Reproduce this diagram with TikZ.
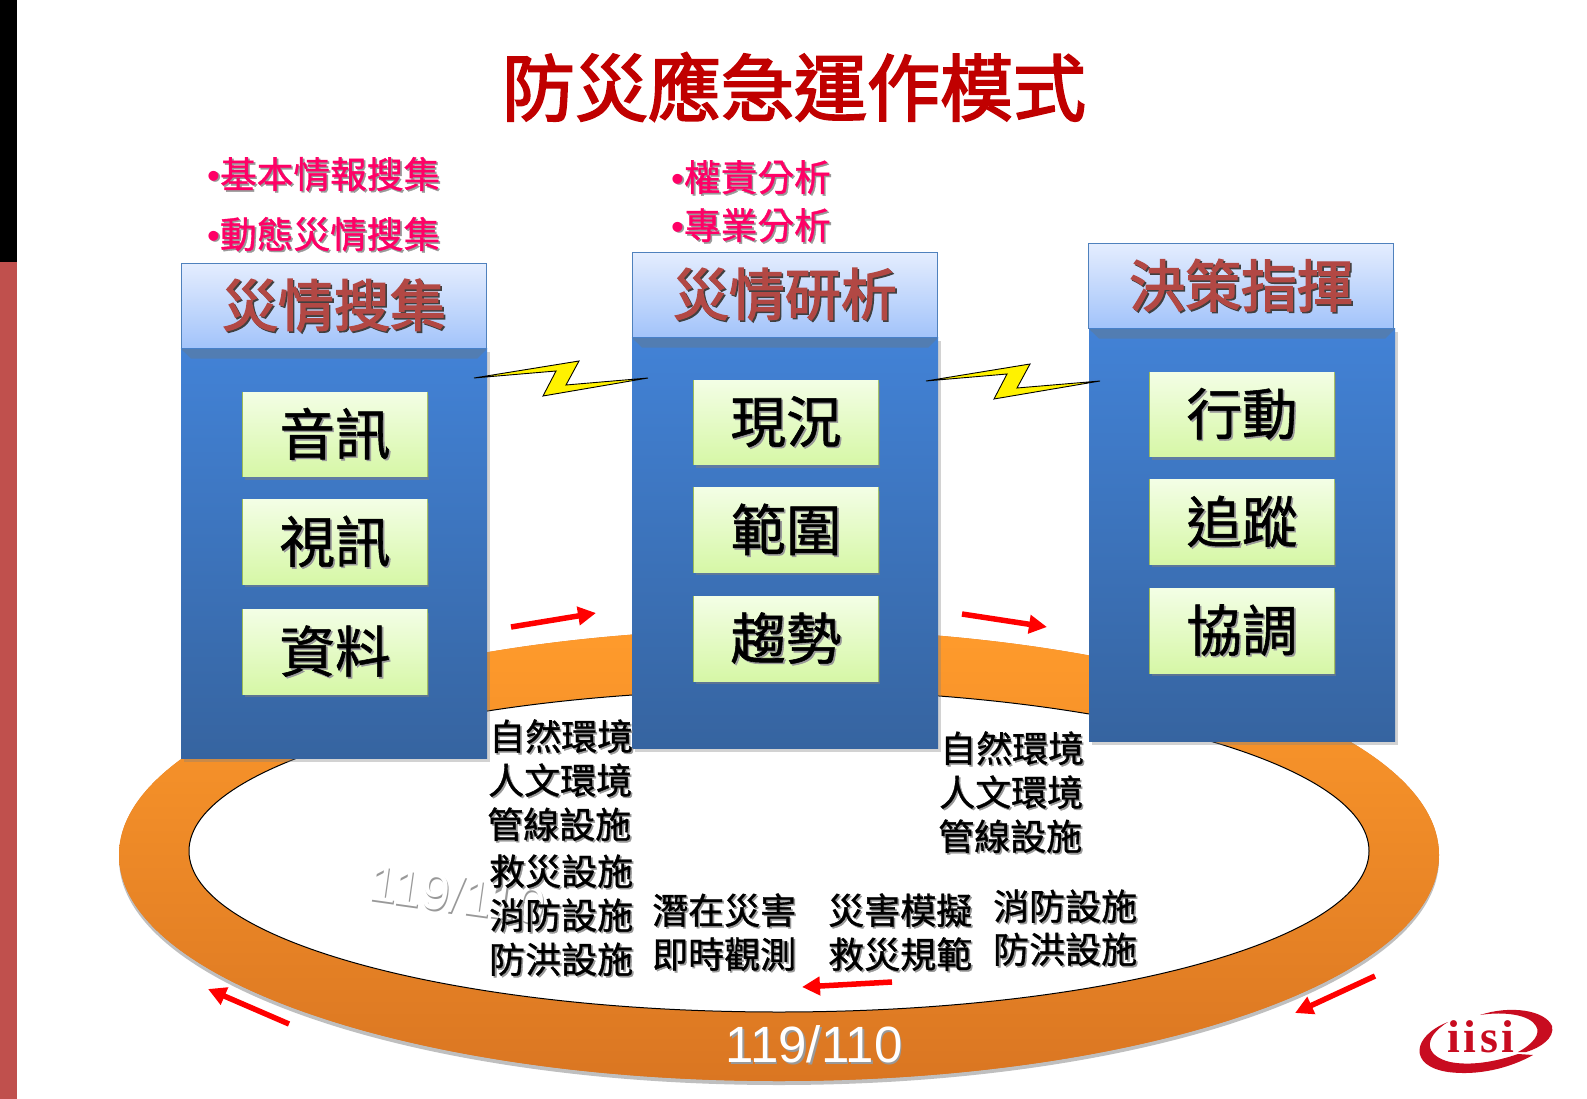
\documentclass[tikz,border=0pt]{standalone}
\usepackage{fontspec}
\setmainfont{Liberation Sans}
\newfontfamily\cjk[FakeBold=1]{Noto Sans CJK TC}
\newfontfamily\cjktitle[FakeBold=2.5]{Noto Sans CJK TC}
\newfontfamily\logofont[LetterSpace=8]{Liberation Serif}
\usepackage{tikz}
\usetikzlibrary{arrows.meta,positioning,shadows}
\definecolor{dutyRed}{RGB}{192,0,0}
\definecolor{railRed}{RGB}{192,80,77}
\definecolor{notePink}{RGB}{255,0,102}
\definecolor{headRed}{RGB}{178,72,68}
\definecolor{ringTop}{RGB}{255,155,44}
\definecolor{ringLow}{RGB}{218,118,34}
\definecolor{bodyTop}{RGB}{66,130,214}
\definecolor{bodyLow}{RGB}{54,100,160}
\definecolor{headTop}{RGB}{228,237,254}
\definecolor{headLow}{RGB}{162,195,250}
\definecolor{headLine}{RGB}{79,129,189}
\definecolor{itemTop}{RGB}{243,254,229}
\definecolor{itemLow}{RGB}{214,247,166}
\definecolor{itemLine}{RGB}{155,187,89}
\definecolor{bevelBlue}{RGB}{82,125,178}
\definecolor{logoRed}{RGB}{200,12,32}
\newcommand{\shtext}[2][black!40]{\leavevmode\rlap{\hspace{1.6pt}\raisebox{-1.6pt}{\textcolor{#1}{#2}}}#2}
\tikzset{
  headbox/.style={draw=headLine, top color=headTop, bottom color=headLow,
                  minimum width=305pt, minimum height=85pt, inner sep=0pt, font=\cjktitle\fontsize{56}{60}\selectfont, text=headRed},
  bodybox/.style={fill=bodyLow, drop shadow={shadow xshift=2.5pt, shadow yshift=-3pt, opacity=.35},
                  postaction={top color=bodyTop, bottom color=bodyLow},
                  minimum width=306pt, minimum height=411pt, inner sep=0pt},
  itembox/.style={draw=itemLine, line width=1.2pt, fill=itemLow, drop shadow={shadow xshift=2pt, shadow yshift=-3pt, opacity=.5},
                  postaction={top color=itemTop, bottom color=itemLow}, minimum width=184pt, minimum height=84.5pt,
                  inner sep=0pt, font=\cjk\fontsize{55.5}{60}\selectfont},
  notetext/.style={anchor=west, inner sep=0pt, text=notePink, font=\cjk\fontsize{36.7}{40}\selectfont},
  labeltext/.style={anchor=west, inner sep=0pt, font=\cjk\fontsize{36}{40}\selectfont},
  bolt/.style={draw=black, fill=yellow, line width=.9pt, line join=miter},
  flow/.style={-{Triangle[length=18pt,width=18pt]}, draw=red, line width=5.5pt},
  bevel/.style={fill=bevelBlue}
}
\begin{document}
\begin{tikzpicture}[x=1pt, y=-1pt]
\useasboundingbox (0,0) rectangle (1587,1099);
\fill[white] (0,0) rectangle (1587,1099);
\fill[black] (0,0) rectangle (17,262);
\fill[railRed] (0,262) rectangle (17,1099);

% ring
\path[fill=ringLow, drop shadow={shadow xshift=0pt, shadow yshift=-4pt, opacity=.5}, postaction={top color=ringTop, bottom color=ringLow}]
  (779,855) ellipse [x radius=660, y radius=226];
\draw[black, fill=white, line width=1pt] (779,851) ellipse [x radius=590, y radius=161];
\node[inner sep=0pt, rotate=-8, text=white, font=\fontsize{51}{52}\selectfont] (ghost) at (457,895) {\shtext[black!40]{119/110}};
\node[inner sep=0pt, text=white, font=\fontsize{51}{52}\selectfont] (ringlabel) at (814,1045) {\shtext[black!40]{119/110}};

\node[font=\cjktitle\fontsize{73}{80}\selectfont, text=dutyRed, inner sep=0pt] (title) at (794,87) {防災應急運作模式};

% columns
\node[headbox] (head1) at (334,306) {\shtext[black!75]{災情搜集}};
\node[bodybox, below=0pt of head1, minimum height=410pt] (body1) {};
\node[headbox] (head2) at (785,295) {\shtext[black!75]{災情研析}};
\node[bodybox, below=0pt of head2] (body2) {};
\node[headbox] (head3) at (1241,286) {\shtext[black!75]{決策指揮}};
\node[bodybox, below=0pt of head3, xshift=1pt, minimum height=413pt] (body3) {};
\foreach \b in {body1,body2,body3}
  \fill[bevel] (\b.north west) -- (\b.north east) -- ++(-10,10) -- ++(-286,0) -- cycle;

\node[itembox] (a1) at (335,434.5) {\shtext{音訊}};
\node[itembox, below=22pt of a1] (a2) {\shtext{視訊}};
\node[itembox, below=24pt of a2] (a3) {\shtext{資料}};
\node[itembox] (b1) at (786,422.5) {\shtext{現況}};
\node[itembox, below=22pt of b1] (b2) {\shtext{範圍}};
\node[itembox, below=23pt of b2] (b3) {\shtext{趨勢}};
\node[itembox] (c1) at (1242,414.5) {\shtext{行動}};
\node[itembox, below=22pt of c1] (c2) {\shtext{追蹤}};
\node[itembox, below=23pt of c2] (c3) {\shtext{協調}};

% notes
\node[notetext] (n1) at (207,175) {\shtext{{\rmfamily •}基本情報搜集}};
\node[notetext] (n2) at (207,235) {\shtext{{\rmfamily •}動態災情搜集}};
\node[notetext] (n3) at (671,178) {\shtext{{\rmfamily •}權責分析}};
\node[notetext] (n4) at (671,226) {\shtext{{\rmfamily •}專業分析}};

% bolts
\coordinate (b1l) at (474,378);
\coordinate (b1r) at (648,378);
\draw[bolt] (b1l) -- (579,361) -- (566,385) -- (b1r) -- (543,396) -- (556,371) -- cycle;
\coordinate (b2l) at (926,381);
\coordinate (b2r) at (1100,381);
\draw[bolt] (b2l) -- (1030,364) -- (1017,388) -- (b2r) -- (994,399) -- (1007,374) -- cycle;

% labels
\node[labeltext] (l1) at (489,737) {\shtext{自然環境}};
\node[labeltext] (l2) at (488,781) {\shtext{人文環境}};
\node[labeltext] (l3) at (487,825) {\shtext{管線設施}};
\node[labeltext] (l4) at (489,872) {\shtext{救災設施}};
\node[labeltext] (l5) at (489,916) {\shtext{消防設施}};
\node[labeltext] (l6) at (489,960) {\shtext{防洪設施}};
\node[labeltext] (r1) at (940,749) {\shtext{自然環境}};
\node[labeltext] (r2) at (939,793) {\shtext{人文環境}};
\node[labeltext] (r3) at (938,837) {\shtext{管線設施}};
\node[labeltext] (m1) at (652,911) {\shtext{潛在災害}};
\node[labeltext] (m2) at (652,955) {\shtext{即時觀測}};
\node[labeltext] (m3) at (828,911) {\shtext{災害模擬}};
\node[labeltext] (m4) at (828,955) {\shtext{救災規範}};
\node[labeltext] (m5) at (993,907) {\shtext{消防設施}};
\node[labeltext] (m6) at (993,950) {\shtext{防洪設施}};

% flow arrows
\coordinate (f1a) at (511,627); \coordinate (f1b) at (596,613);
\coordinate (f2a) at (962,614); \coordinate (f2b) at (1047,627);
\coordinate (f3a) at (892,982); \coordinate (f3b) at (802,987);
\coordinate (f4a) at (1375,976); \coordinate (f4b) at (1295,1013);
\coordinate (f5a) at (289,1024); \coordinate (f5b) at (208,989);
\foreach \i in {1,...,5}
  \draw[flow] (f\i a) -- (f\i b);

% logo
\fill[logoRed] (1448,1022) .. controls (1412,1036) and (1408,1066) .. (1448,1072)
  .. controls (1478,1076) and (1510,1068) .. (1533,1055) -- (1518,1054)
  .. controls (1495,1062) and (1470,1066) .. (1450,1062)
  .. controls (1425,1056) and (1422,1038) .. (1448,1022) -- cycle;
\fill[logoRed] (1480,1015) .. controls (1510,1005) and (1545,1010) .. (1552,1026)
  .. controls (1555,1038) and (1540,1048) .. (1526,1052) -- (1518,1052)
  .. controls (1533,1044) and (1541,1034) .. (1536,1026)
  .. controls (1530,1015) and (1505,1011) .. (1480,1015) -- cycle;
\node[inner sep=0pt, text=logoRed, font=\logofont\bfseries\fontsize{46}{50}\selectfont] (logo) at (1481,1037) {iisi};
\end{tikzpicture}
\end{document}
